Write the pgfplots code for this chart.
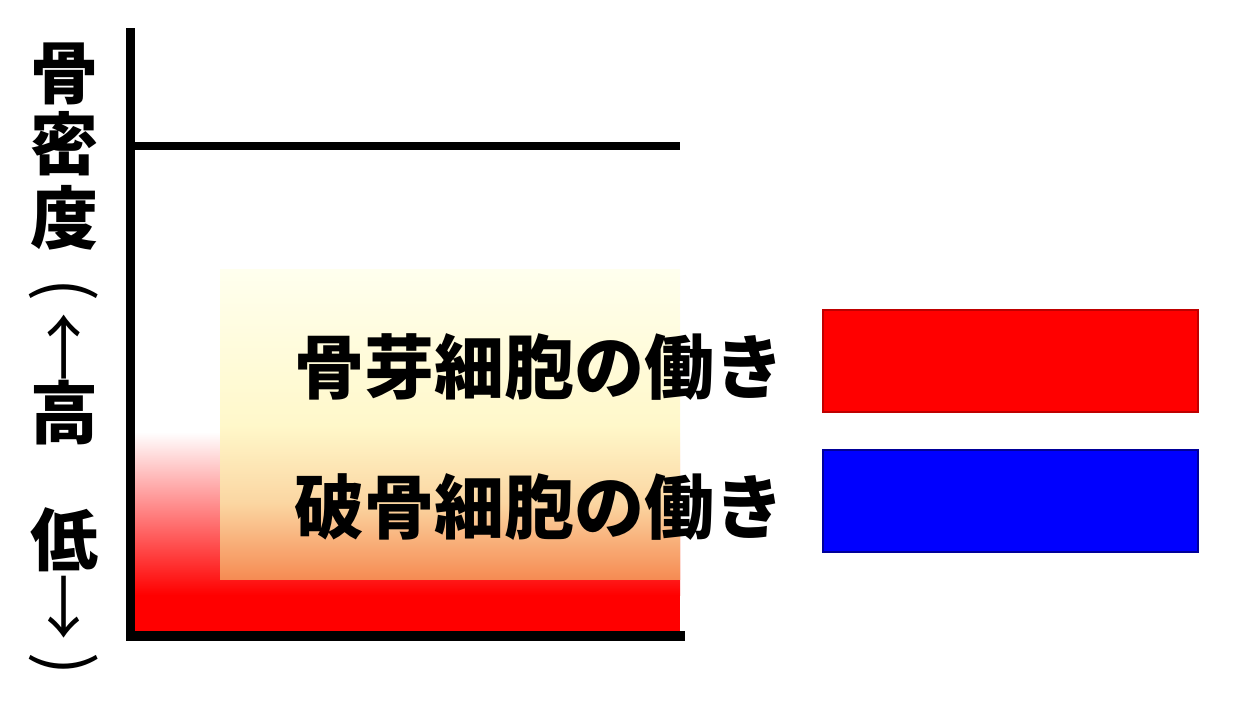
\documentclass[border=0pt]{standalone}
\usepackage{graphicx}
\usepackage{pgfplots}
\pgfplotsset{compat=1.18}
\usepackage{fontspec}
\newfontfamily\jpfont{Noto Sans CJK JP}
\definecolor{oratop}{RGB}{255,255,238}
\definecolor{oraqua}{RGB}{251,214,162}
\definecolor{oramid}{RGB}{255,248,202}
\definecolor{orabot}{RGB}{246,138,82}
\pgfdeclareverticalshading{orangefade}{100bp}{color(0bp)=(orabot); color(25bp)=(orabot); color(37.5bp)=(oraqua); color(50bp)=(oramid); color(75bp)=(oratop); color(100bp)=(oratop)}
\newcommand{\vc}[1]{$\vcenter{\hbox{#1}}$}
\newcommand{\vlpar}{\textmd{\rotatebox[origin=c]{-90}{(}}}
\newcommand{\vrpar}{\textmd{\rotatebox[origin=c]{-90}{)}}}
\newcommand{\vup}{\textmd{\resizebox*{!}{32bp}{↑}}}
\newcommand{\vdown}{\textmd{\resizebox*{!}{31bp}{↓}}}
\newcommand{\labfont}{\jpfont\bfseries\fontsize{34bp}{0bp}\selectfont\lineskiplimit=-200bp\relax\lineskip=0bp\relax}
\begin{document}
\begin{tikzpicture}
\useasboundingbox (0,0) rectangle (619bp,360bp);
\begin{axis}[
  at={(65.25bp,42bp)}, anchor=south west,
  scale only axis, width=274.75bp, height=301.75bp,
  xmin=0, xmax=10, ymin=0, ymax=100,
  axis x line*=bottom, axis y line*=left,
  axis line style={-, line width=4.5bp, line cap=rect, black},
  xtick=\empty, ytick=\empty,
  axis on top,
  every axis y label/.style={at={(axis description cs:-0.121,0.9843)}, anchor=north, align=center, inner sep=0pt,
    font=\labfont},
  ylabel={\vc{骨}\\[35bp]\vc{密}\\[37bp]\vc{度}\\[38.5bp]\vc{\vlpar}\\[26.5bp]\vc{\vup}\\[32.5bp]\vc{高}\\[63.5bp]\vc{低}\\[34bp]\vc{\vdown}\\[30.5bp]\vc{\vrpar}},
  legend plot pos=right,
  legend image code/.code={\draw[#1, fill opacity=1, draw opacity=1] (0bp,-9.25bp) rectangle (187.5bp,41.75bp);},
  legend style={at={(axis description cs:0.1629,0.6065)}, anchor=north west, draw=none, fill=none,
    inner xsep=19bp, inner ysep=15bp, outer sep=0pt, row sep=18bp, column sep=19bp,
    nodes={inner sep=0pt}, cells={anchor=base west},
    font=\jpfont\bfseries\fontsize{35bp}{40bp}\selectfont},
]
\addplot[draw=none, fill=red, forget plot] coordinates {(0,0) (0,7) (10,7) (10,0)} -- cycle;
\addplot[draw=none, top color=white, bottom color=red, forget plot] coordinates {(0,6.79) (0,33.8) (10,33.8) (10,6.79)} -- cycle;
\addplot[draw=none, shading=orangefade, forget plot] coordinates {(1.63,9.28) (1.63,60.65) (10,60.65) (10,9.28)} -- cycle;
\addplot[black, line width=4bp, forget plot] coordinates {(0,81.2) (10,81.2)};
\addlegendimage{fill=red, draw=red!75!black, line width=1bp}
\addlegendentry{\hspace*{18bp}\rule{0pt}{46.75bp}骨芽細胞の働き}
\addlegendimage{fill=blue, draw=blue!60!black, line width=1bp}
\addlegendentry{\hspace*{18bp}破骨細胞の働き}
\end{axis}
\end{tikzpicture}
\end{document}
